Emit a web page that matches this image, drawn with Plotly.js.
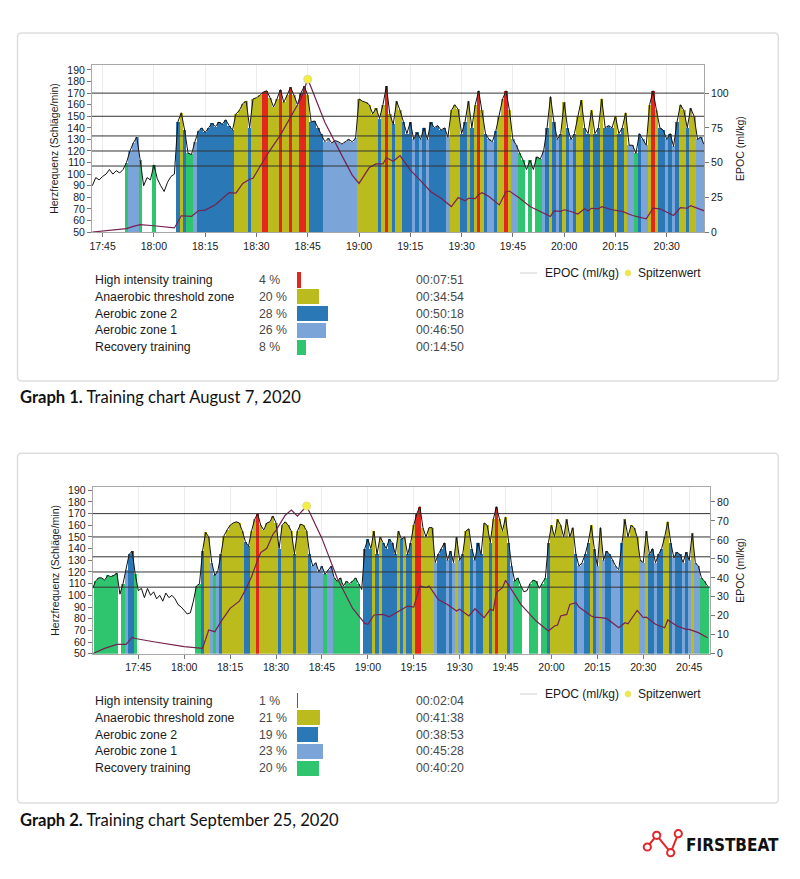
<!DOCTYPE html>
<html><head><meta charset="utf-8">
<script src="https://cdn.plot.ly/plotly-3.0.1.min.js"></script>
<style>html,body{margin:0;padding:0;background:#fff}#chart{width:800px;height:879px}</style>
</head><body><div id="chart"></div><script>
// ---------- DATA ----------
const day1 = '2020-08-07';
const day2 = '2020-09-25';
const hrStep = 60000; // one sample per minute
const hr1Start = '17:42';
const hr2Start = '17:30';

// Heart rate, graph 1 (17:42 - 20:41, per minute)
const hr1 = [
 90,97,95,98,100,104,100,103,101,104,
 110,120,127,132,112,90,97,95,108,96,
 90,85,93,98,100,145,153,138,118,117,
 128,137,140,136,140,144,141,145,143,147,
 142,138,152,155,161,163,140,165,166,168,
 171,172,166,158,165,173,162,168,175,168,
 160,170,176,168,145,146,140,135,128,131,
 127,129,128,126,128,130,128,131,165,163,
 162,160,152,157,148,160,176,152,143,163,
 155,145,135,145,130,136,130,140,130,145,
 140,142,138,140,132,155,160,156,135,145,
 163,140,160,172,155,135,130,128,137,150,
 165,172,155,130,125,118,112,104,112,104,
 115,113,120,140,167,145,130,135,162,140,
 130,135,150,164,140,135,155,135,140,165,
 140,142,140,150,135,140,153,125,125,118,
 135,130,125,160,172,155,140,138,130,135,
 124,145,160,155,140,157,150,130,132,125
];
// Heart rate, graph 2 (17:30 - 20:51, per minute)
const hr2 = [
 105,112,115,115,113,117,116,117,119,101,
 110,122,135,138,118,104,106,98,106,100,
 103,97,100,95,102,98,100,97,92,90,
 87,84,85,95,108,110,138,154,150,128,
 117,121,135,151,156,160,162,163,162,155,
 146,142,155,165,170,160,156,162,163,168,
 162,140,160,163,160,155,135,155,161,160,
 155,135,125,128,120,125,118,122,125,115,
 112,115,108,112,110,112,115,110,105,140,
 148,140,155,135,150,145,140,148,145,135,
 155,148,150,135,145,160,170,176,158,150,
 158,158,128,135,140,145,130,138,128,150,
 130,135,155,157,140,130,145,135,162,160,
 145,165,176,165,155,167,145,125,112,115,
 108,103,104,110,113,112,106,110,115,145,
 160,150,165,160,150,165,150,158,135,125,
 128,135,145,160,140,125,158,130,138,135,
 130,125,122,145,165,150,160,158,150,130,
 128,155,135,140,128,135,140,150,163,145,
 132,137,135,128,137,130,153,128,125,115,
 112,108
];

// EPOC (ml/kg)
const epoc1T = ['17:42','17:52','17:54','17:56','18:00','18:06','18:08','18:11','18:13','18:15','18:18','18:22','18:24','18:26','18:28','18:29','18:31','18:34','18:37','18:40','18:43','18:44','18:45','18:46','18:50','18:55','18:58','19:00','19:03','19:05','19:07','19:08','19:10','19:12','19:15','19:18','19:21','19:24','19:27','19:29','19:31','19:32','19:34','19:35','19:36','19:38','19:41','19:43','19:44','19:47','19:50','19:53','19:56','19:57','19:59','20:00','20:02','20:04','20:06','20:07','20:08','20:10','20:11','20:14','20:17','20:20','20:24','20:26','20:28','20:32','20:34','20:36','20:37','20:41'];
const epoc1V = [0,2.4,4,5.3,4.5,2.9,11.7,11.2,15.3,15.8,19.6,28.4,28,35,38,38.7,47,59,69.8,83,96,103,110,104,79,55,41,35,46.4,49,49,53.5,51,55,44.5,37,29,24.3,18.3,24.8,22.4,24.3,24,27,28.3,25.5,19.5,29,29.5,24.3,18.3,14.8,11.2,15.2,14.8,16,14.8,12.9,16.7,15.2,17.1,16.7,18.3,16,14.8,11.9,9.5,17.1,16.7,11.9,17.6,17.1,19,15.2];
const epoc2T = ['17:30','17:34','17:38','17:41','17:43','17:44','17:50','18:00','18:06','18:08','18:10','18:12','18:15','18:18','18:20','18:22','18:24','18:25','18:27','18:29','18:30','18:31','18:33','18:35','18:37','18:40','18:45','18:50','18:55','18:59','19:00','19:02','19:05','19:07','19:10','19:13','19:15','19:17','19:19','19:20','19:23','19:26','19:29','19:30','19:33','19:35','19:38','19:40','19:41','19:42','19:44','19:45','19:50','19:55','19:59','20:01','20:02','20:03','20:05','20:06','20:08','20:09','20:13','20:14','20:16','20:18','20:22','20:24','20:25','20:28','20:30','20:31','20:34','20:37','20:38','20:41','20:44','20:45','20:48','20:51'];
const epoc2V = [0,2.8,4.9,4.9,8.6,8,6.3,3.7,2.8,12.5,11.6,16.9,23.9,27.7,33.6,40.6,49.4,53.3,55.6,63,65,67.8,73,75.7,72.5,77.9,60.8,39.8,24,16,15.5,20.4,20.7,19.5,22.1,25.1,24.6,35.7,34.8,35.7,28.6,26,22.5,23.4,19.9,23.7,19,23.4,22.8,32.2,34.8,38.7,26,17.2,12,14.6,15.1,19.9,20.7,26,26.9,24.6,19.9,19.3,19,18.6,13.7,16.3,15.8,22.8,19,19.3,15.5,13.7,17.8,14.6,12.8,12.8,11.1,8.4];

// Zones
const zoneThresholds = [107, 120, 133, 150, 170];
const zoneNames = ['High intensity training','Anaerobic threshold zone','Aerobic zone 2','Aerobic zone 1','Recovery training'];
const pct1 = [4, 20, 28, 26, 8];
const dur1 = ['00:07:51','00:34:54','00:50:18','00:46:50','00:14:50'];
const pct2 = [1, 21, 19, 23, 20];
const dur2 = ['00:02:04','00:41:38','00:38:53','00:45:28','00:40:20'];
const epocTicks1 = [0, 25, 50, 75, 100];
const epocTicks2 = [0, 10, 20, 30, 40, 50, 60, 70, 80];
const captions = ['Training chart August 7, 2020', 'Training chart September 25, 2020'];

// ---------- STYLE ----------
const W = 800, H = 879;
const X = px => px / W;
const Y = py => 1 - py / H;
const colAsc = ['#2fc56f', '#7ba5d8', '#2a78b6', '#bcbb1e', '#e3271d']; // recovery -> high
const colLegend = ['#e3271d', '#bcbb1e', '#2a78b6', '#7ba5d8', '#2fc56f'];
const epocColor = '#76214f';
const FONT = 'Liberation Sans, Arial, sans-serif';
function zoneColor(v) {
  let c = 'rgba(0,0,0,0)';
  zoneThresholds.forEach((t, i) => { if (v >= t) c = colAsc[i]; });
  return c;
}

const traces = [];
function addHR(hr, day, start, xa, ya, epT, epV, ya2) {
  traces.push({type: 'bar', x0: day + ' ' + start + ':00', dx: hrStep, y: hr, width: hrStep,
    marker: {color: hr.map(zoneColor), line: {width: 0}}, xaxis: xa, yaxis: ya,
    hoverinfo: 'skip', showlegend: false});
  traces.push({type: 'scatter', mode: 'lines', x0: day + ' ' + start + ':00', dx: hrStep, y: hr,
    line: {color: '#111', width: 1, shape: 'linear'}, xaxis: xa, yaxis: ya, hoverinfo: 'skip', showlegend: false});
  traces.push({type: 'scatter', mode: 'lines', x: epT.map(t => day + ' ' + t), y: epV,
    line: {color: epocColor, width: 1.2}, xaxis: xa, yaxis: ya2, showlegend: false});
  const im = epV.indexOf(Math.max(...epV));
  traces.push({type: 'scatter', mode: 'markers', x: [day + ' ' + epT[im]], y: [epV[im]],
    marker: {color: '#f3ef3c', size: 8, line: {color: '#e0dc90', width: 1}}, xaxis: xa, yaxis: ya2, showlegend: false});
}
addHR(hr1, day1, hr1Start, 'x', 'y', epoc1T, epoc1V, 'y2');
addHR(hr2, day2, hr2Start, 'x2', 'y3', epoc2T, epoc2V, 'y4');

// legend bars
const rowIdx = [0, 1, 2, 3, 4];
traces.push({type: 'bar', orientation: 'h', x: pct1, y: rowIdx, width: 0.9, marker: {color: colLegend, line: {width: 0}},
  xaxis: 'x3', yaxis: 'y5', hoverinfo: 'skip', showlegend: false});
traces.push({type: 'bar', orientation: 'h', x: pct2, y: rowIdx, width: 0.9, marker: {color: colLegend, line: {width: 0}},
  xaxis: 'x4', yaxis: 'y6', hoverinfo: 'skip', showlegend: false});

function timeAxis(dom, anchor, day, r0, r1) {
  return {domain: dom, anchor: anchor, type: 'date', range: [day + ' ' + r0, day + ' ' + r1],
    tick0: day + ' 17:45:00', dtick: 900000, tickformat: '%H:%M', ticks: 'outside', ticklen: 4, tickcolor: '#777',
    showgrid: true, gridcolor: '#ececec', showline: true, linecolor: '#a8a8a8', mirror: true, zeroline: false,
    tickfont: {size: 10.5, color: '#1a1a1a'}, fixedrange: true};
}
function hrAxis(dom, anchor, top) {
  return {domain: dom, anchor: anchor, range: [50, top], tick0: 50, dtick: 10, ticks: 'outside', ticklen: 4, tickcolor: '#777',
    showgrid: false, showline: true, linecolor: '#a8a8a8', mirror: true, zeroline: false,
    tickfont: {size: 10.5, color: '#1a1a1a'},
    title: {text: 'Herzfrequenz (Schläge/min)', font: {size: 10.5, color: '#1a1a1a'}, standoff: 6}, fixedrange: true};
}
function epAxis(over, anchor, top, tv) {
  return {overlaying: over, anchor: anchor, side: 'right', range: [0, top], tickvals: tv, ticks: 'outside', ticklen: 4,
    tickcolor: '#777', showgrid: false, zeroline: false, showline: false,
    tickfont: {size: 10.5, color: '#1a1a1a'},
    title: {text: 'EPOC (ml/kg)', font: {size: 10.5, color: '#1a1a1a'}, standoff: 8}, fixedrange: true};
}

const layout = {
  width: W, height: H, margin: {l: 0, r: 0, t: 0, b: 0}, paper_bgcolor: '#fff', plot_bgcolor: '#fff',
  font: {family: FONT, color: '#1a1a1a'}, showlegend: false, bargap: 0,
  xaxis: timeAxis([X(92), X(704)], 'y', day1, '17:41:54', '20:40:54'),
  yaxis: hrAxis([Y(232), Y(65)], 'x', 194.3),
  yaxis2: epAxis('y', 'x', 120.25, epocTicks1),
  xaxis2: timeAxis([X(92.7), X(710)], 'y3', day2, '17:30:06', '20:51:48'),
  yaxis3: hrAxis([Y(653.7), Y(487)], 'x2', 192.8),
  yaxis4: epAxis('y3', 'x2', 87.9, epocTicks2),
  xaxis3: {domain: [X(296.7), X(409.7)], anchor: 'y5', range: [0, 100], visible: false, fixedrange: true},
  yaxis5: {domain: [Y(355.7), Y(271.6)], anchor: 'x3', range: [4.5, -0.5], visible: false, fixedrange: true},
  xaxis4: {domain: [X(296.7), X(409.7)], anchor: 'y6', range: [0, 100], visible: false, fixedrange: true},
  yaxis6: {domain: [Y(776.8), Y(692.3)], anchor: 'x4', range: [4.5, -0.5], visible: false, fixedrange: true},
  shapes: [], annotations: []
};

// zone threshold lines
[['y', 'x'], ['y3', 'x2']].forEach(([ya, xa]) => {
  zoneThresholds.forEach(t => layout.shapes.push({type: 'line', xref: xa + ' domain', x0: 0, x1: 1, yref: ya, y0: t, y1: t,
    line: {color: '#333', width: 1}, layer: 'above'}));
});

// panel boxes
function roundRect(x0, y0, x1, y1, r) {
  return `M${X(x0 + r)},${Y(y0)} L${X(x1 - r)},${Y(y0)} Q${X(x1)},${Y(y0)} ${X(x1)},${Y(y0 + r)} L${X(x1)},${Y(y1 - r)} Q${X(x1)},${Y(y1)} ${X(x1 - r)},${Y(y1)} L${X(x0 + r)},${Y(y1)} Q${X(x0)},${Y(y1)} ${X(x0)},${Y(y1 - r)} L${X(x0)},${Y(y0 + r)} Q${X(x0)},${Y(y0)} ${X(x0 + r)},${Y(y0)} Z`;
}
[[33, 381], [453.3, 803]].forEach(([a, b]) => layout.shapes.push({type: 'path', xref: 'paper', yref: 'paper',
  path: roundRect(17.5, a, 778.3, b, 4), line: {color: '#dedede', width: 1.5}, layer: 'below'}));

// legend rows
[[pct1, dur1, 'y5'], [pct2, dur2, 'y6']].forEach(([pc, du, ya]) => {
  rowIdx.forEach(i => {
    const base = {xref: 'paper', yref: ya, y: i, yanchor: 'middle', xanchor: 'left', showarrow: false, font: {size: 12.3, color: '#1a1a1a', family: FONT}};
    layout.annotations.push(Object.assign({}, base, {x: X(93), text: zoneNames[i]}));
    layout.annotations.push(Object.assign({}, base, {x: X(256.7), text: pc[i] + ' %', font: {size: 12.3, color: '#4a4a4a', family: FONT}}));
    layout.annotations.push(Object.assign({}, base, {x: X(414.3), text: du[i], font: {size: 12.3, color: '#4a4a4a', family: FONT}}));
  });
});

// EPOC / Spitzenwert key
[273, 694].forEach(py => {
  layout.shapes.push({type: 'line', xref: 'paper', yref: 'paper', x0: X(520), x1: X(537), y0: Y(py), y1: Y(py), line: {color: '#d0d0d0', width: 1}});
  layout.shapes.push({type: 'circle', xref: 'paper', yref: 'paper', x0: X(625), x1: X(631), y0: Y(py + 3), y1: Y(py - 3), fillcolor: '#efeb3c', line: {color: '#e6e290', width: 0.8}});
  layout.annotations.push({xref: 'paper', yref: 'paper', x: X(543), y: Y(py), xanchor: 'left', yanchor: 'middle', showarrow: false, text: 'EPOC (ml/kg)', font: {size: 12, family: FONT, color: '#1a1a1a'}});
  layout.annotations.push({xref: 'paper', yref: 'paper', x: X(636), y: Y(py), xanchor: 'left', yanchor: 'middle', showarrow: false, text: 'Spitzenwert', font: {size: 12, family: FONT, color: '#1a1a1a'}});
});

// captions
[[396.5, 1], [819.5, 2]].forEach(([py, n]) => layout.annotations.push({xref: 'paper', yref: 'paper', x: X(17.5), y: Y(py), xanchor: 'left', yanchor: 'middle', showarrow: false,
  text: '<b>Graph ' + n + '.</b> ' + captions[n - 1], font: {size: 16.6, family: 'Lato, sans-serif', color: '#111'}}));

// Firstbeat logo
const logoPts = [[647.3, 847], [656.7, 835.3], [670.7, 852.7], [678.3, 833.7]];
for (let i = 0; i < logoPts.length - 1; i++) {
  layout.shapes.push({type: 'line', xref: 'paper', yref: 'paper', x0: X(logoPts[i][0]), y0: Y(logoPts[i][1]), x1: X(logoPts[i + 1][0]), y1: Y(logoPts[i + 1][1]), line: {color: '#e2262b', width: 2}});
}
logoPts.forEach(([cx, cy]) => layout.shapes.push({type: 'circle', xref: 'paper', yref: 'paper', x0: X(cx - 3.6), x1: X(cx + 3.6), y0: Y(cy + 3.6), y1: Y(cy - 3.6), fillcolor: '#fff', line: {color: '#e2262b', width: 2}}));
layout.annotations.push({xref: 'paper', yref: 'paper', x: X(684), y: Y(844.5), xanchor: 'left', yanchor: 'middle', showarrow: false,
  text: '<b>FIRSTBEAT</b>', font: {size: 17, family: 'DejaVu Sans Condensed, Roboto, sans-serif', color: '#111'}});

Plotly.newPlot('chart', traces, layout, {displayModeBar: false, staticPlot: true});
</script></body></html>
